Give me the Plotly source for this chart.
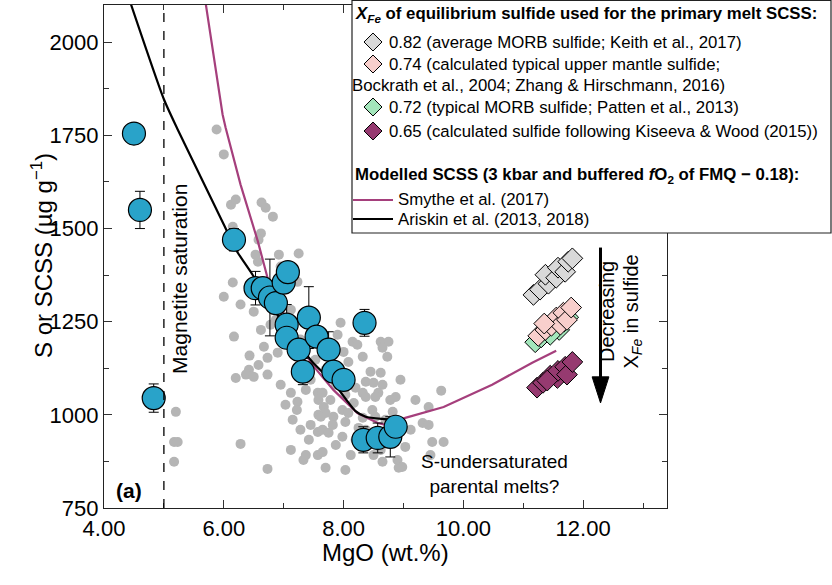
import plotly.graph_objects as go

# ---------------- data ----------------
gray_mgo = [5.88, 6.00, 6.12, 6.20, 6.63, 6.70, 6.82, 6.15, 6.62, 6.58,
            6.53, 6.92, 7.25, 6.57, 6.95, 6.15, 6.00, 7.23, 6.50, 6.17,
            6.67, 6.43, 6.73, 6.58, 6.90, 6.42, 6.37, 6.20, 6.50, 6.73,
            7.12, 7.23, 7.22, 7.37, 7.57, 5.20, 5.17, 5.23, 5.17, 6.28,
            6.73, 7.33, 7.57, 7.57, 7.58, 6.78, 7.95, 7.90, 8.15, 8.23,
            8.62, 8.75, 8.65, 8.73, 8.32, 8.00, 8.08, 8.45, 8.62, 8.37,
            8.50, 8.65, 8.87, 8.58, 8.53, 8.32, 8.37, 8.20, 7.65, 7.58,
            7.67, 7.70, 7.83, 7.62, 7.98, 8.08, 8.17, 8.48, 8.53, 8.32,
            7.82, 8.03, 7.65, 7.75, 8.25, 7.98, 7.65, 7.70, 8.90, 8.92,
            9.32, 9.42, 9.48, 9.67, 9.63, 9.42, 9.03, 8.50, 8.65, 8.98,
            7.15, 7.28, 7.42, 7.45, 7.03, 6.95, 7.37, 7.12, 7.87, 8.12,
            8.03, 8.20, 8.37, 8.70, 8.82, 7.28, 7.53, 7.70, 7.87, 8.03,
            7.78, 7.45, 7.28, 7.12, 6.87, 6.62, 6.95, 6.45, 6.28, 6.78,
            9.12, 9.20, 8.95, 8.78, 8.87, 8.62, 9.45]
gray_s = [1766, 1699, 1564, 1578, 1570, 1556, 1532, 1505, 1487, 1470,
          1430, 1430, 1433, 1411, 1398, 1355, 1317, 1357, 1277, 1210,
          1183, 1159, 1153, 1134, 1167, 1121, 1108, 1099, 1102, 1108,
          1059, 1035, 1013, 1067, 1059, 1008, 927, 927, 874, 922,
          855, 879, 892, 954, 1000, 1242, 1247, 1215, 1196, 1188,
          1196, 1196, 1180, 1156, 1156, 1169, 1142, 1116, 1113, 1089,
          1086, 1081, 1048, 1059, 1048, 1059, 1048, 1073, 1059, 1040,
          1021, 1005, 995, 995, 1013, 1005, 1032, 1013, 995, 992,
          973, 981, 960, 952, 965, 941, 900, 858, 879, 858,
          978, 973, 927, 927, 1065, 1021, 914, 892, 874, 860,
          987, 960, 933, 973, 1027, 1081, 892, 906, 919, 892,
          852, 933, 960, 987, 1008, 1116, 1148, 1121, 1081, 1054,
          1040, 1094, 1202, 1282, 1255, 1228, 1363, 1336, 1296, 1336,
          960, 1040, 1094, 1040, 933, 906, 892]

blue_mgo = [4.50, 4.60, 4.83, 6.17, 6.53, 6.65, 6.77, 6.87, 7.00, 7.07, 7.05, 7.05,
            7.25, 7.32, 7.42, 7.55, 7.75, 7.83, 8.00, 8.35, 8.33, 8.57, 8.78, 8.87]
blue_s = [1755, 1550, 1045, 1470, 1340, 1340, 1315, 1300, 1355, 1383, 1242, 1207,
          1175, 1116, 1261, 1210, 1175, 1116, 1094, 1247, 933, 938, 941, 968]
blue_err = [0, 50, 38, 30, 45, 0, 103, 0, 0, 0, 54, 0,
            0, 35, 83, 0, 48, 0, 0, 36, 35, 40, 54, 0]

ariskin_mgo = [4.45, 5.00, 5.23, 6.00, 6.20, 6.48, 6.95, 7.48, 7.83, 8.20, 8.37, 8.65, 8.83]
ariskin_s = [2102, 1847, 1766, 1511, 1444, 1376, 1255, 1142, 1086, 1010, 995, 989, 987]

smythe_mgo = [5.70, 5.98, 6.03, 6.28, 6.57, 6.73, 7.12, 7.48, 7.83, 8.23, 8.57, 8.70,
              9.03, 9.67, 10.48, 11.15, 11.55]
smythe_s = [2102, 1806, 1771, 1618, 1465, 1368, 1228, 1134, 1067, 1005, 978, 973,
            992, 1021, 1081, 1140, 1172]

xfe082_mgo = [11.17, 11.28, 11.42, 11.37, 11.55, 11.58, 11.70, 11.75, 11.82]
xfe082_s = [1322, 1336, 1352, 1376, 1368, 1395, 1384, 1411, 1420]
xfe072_mgo = [11.20, 11.30, 11.42, 11.52, 11.60, 11.68, 11.75, 11.45]
xfe072_s = [1195, 1208, 1222, 1238, 1228, 1250, 1262, 1215]
xfe074_mgo = [11.25, 11.37, 11.47, 11.55, 11.62, 11.67, 11.73, 11.80, 11.35]
xfe074_s = [1212, 1228, 1239, 1261, 1242, 1274, 1255, 1288, 1245]
xfe065_mgo = [11.23, 11.33, 11.45, 11.57, 11.58, 11.70, 11.73, 11.82, 11.40]
xfe065_s = [1073, 1086, 1105, 1099, 1118, 1129, 1108, 1142, 1092]

x_ticks = [4, 6, 8, 10, 12]
x_ticklabels = ["4.00", "6.00", "8.00", "10.00", "12.00"]
y_ticks = [750, 1000, 1250, 1500, 1750, 2000]

# ---------------- styles ----------------
FONT = "Liberation Sans, Arial, sans-serif"
C_GRAY = "#b5b5b5"
C_BLUE = "#29a3c9"
C_MAG = "#a53f7c"
C_D082 = "#d9d9d9"
C_D074 = "#f8cfcc"
C_D072 = "#a3e6bb"
C_D065 = "#963a70"

fig = go.Figure()

fig.add_trace(go.Scatter(x=gray_mgo, y=gray_s, mode="markers",
                         marker=dict(size=10, color=C_GRAY, line=dict(width=0)),
                         showlegend=False))
fig.add_trace(go.Scatter(x=smythe_mgo, y=smythe_s, mode="lines",
                         line=dict(color=C_MAG, width=2.2), showlegend=False))
fig.add_trace(go.Scatter(x=ariskin_mgo, y=ariskin_s, mode="lines",
                         line=dict(color="black", width=2.2, shape="spline", smoothing=0.6),
                         showlegend=False))
fig.add_trace(go.Scatter(x=blue_mgo, y=blue_s, mode="markers",
                         error_y=dict(type="data", array=blue_err, visible=True,
                                      color="black", thickness=1, width=5),
                         marker=dict(size=23, color=C_BLUE, line=dict(width=1.2, color="black")),
                         showlegend=False))
for xs, ys, col in [(xfe082_mgo, xfe082_s, C_D082), (xfe072_mgo, xfe072_s, C_D072),
                    (xfe074_mgo, xfe074_s, C_D074), (xfe065_mgo, xfe065_s, C_D065)]:
    fig.add_trace(go.Scatter(x=xs, y=ys, mode="markers",
                             marker=dict(symbol="diamond", size=16, color=col,
                                         line=dict(width=1, color="black")),
                             showlegend=False))

# arrow head
fig.add_trace(go.Scatter(x=[12.15, 12.43, 12.29, 12.15], y=[1102, 1102, 1032, 1102],
                         mode="lines", fill="toself", fillcolor="black",
                         line=dict(color="black", width=1), showlegend=False,
                         hoverinfo="skip"))

# ---------------- legend box (paper units) ----------------
def px_x(px):
    return (px - 104) / 563.0


def px_y(py):
    return (508 - py) / 503.0


shapes = [
    dict(type="line", xref="x", yref="y", x0=5.0, x1=5.0, y0=750, y1=2100,
         line=dict(color="black", width=1.3, dash="dash")),
    dict(type="line", xref="x", yref="y", x0=12.29, x1=12.29, y0=1449, y1=1100,
         line=dict(color="black", width=3)),
    dict(type="rect", xref="paper", yref="paper", x0=px_x(352), x1=px_x(831),
         y0=px_y(233), y1=px_y(0.5), line=dict(color="#222", width=1.2),
         fillcolor="white", layer="above"),
]

leg_diamonds = [(42, C_D082), (64, C_D074), (107, C_D072), (131, C_D065)]
h = 9.0
for py, col in leg_diamonds:
    cx, cy = 373, py
    path = "M {} {} L {} {} L {} {} L {} {} Z".format(
        px_x(cx - h), px_y(cy), px_x(cx), px_y(cy - h),
        px_x(cx + h), px_y(cy), px_x(cx), px_y(cy + h))
    shapes.append(dict(type="path", xref="paper", yref="paper", path=path,
                       fillcolor=col, line=dict(color="black", width=1), layer="above"))
for py, col in [(200, C_MAG), (219, "black")]:
    shapes.append(dict(type="line", xref="paper", yref="paper",
                       x0=px_x(353), x1=px_x(393), y0=px_y(py), y1=px_y(py),
                       line=dict(color=col, width=2.2), layer="above"))

legend_texts = [
    (353, 14, "<b><i>X</i><sub><i>Fe</i></sub> of equilibrium sulfide used for the primary melt SCSS:</b>"),
    (387, 42, "0.82 (average MORB sulfide; Keith et al., 2017)"),
    (387, 64, "0.74 (calculated typical upper mantle sulfide;"),
    (350, 86, "Bockrath et al., 2004; Zhang &amp; Hirschmann, 2016)"),
    (387, 107, "0.72 (typical MORB sulfide; Patten et al., 2013)"),
    (387, 131, "0.65 (calculated sulfide following Kiseeva &amp; Wood (2015))"),
    (353, 175, "<b>Modelled SCSS (3 kbar and buffered <i>f</i>O<sub>2</sub> of FMQ − 0.18):</b>"),
    (396, 200, "Smythe et al. (2017)"),
    (396, 219, "Ariskin et al. (2013, 2018)"),
]
annotations = []
for px, py, t in legend_texts:
    annotations.append(dict(xref="paper", yref="paper", x=px_x(px), y=px_y(py),
                            xanchor="left", yanchor="middle", text=t, showarrow=False,
                            font=dict(family=FONT, size=16.8, color="black")))

annotations += [
    dict(xref="x", yref="y", x=5.27, y=1365, text="Magnetite saturation", textangle=-90,
         showarrow=False, font=dict(family=FONT, size=21, color="black")),
    dict(xref="x", yref="y", x=4.42, y=798, text="<b>(a)</b>", showarrow=False,
         font=dict(family=FONT, size=21, color="black")),
    dict(xref="x", yref="y", x=10.52, y=841, text="S-undersaturated<br>parental melts?",
         showarrow=False, font=dict(family=FONT, size=19, color="black")),
    dict(xref="paper", yref="paper", x=px_x(620), y=px_y(312), text="Decreasing",
         textangle=-90, showarrow=False, font=dict(family=FONT, size=20, color="black")),
    dict(xref="paper", yref="paper", x=px_x(646), y=px_y(312),
         text="X<sub><i>Fe</i></sub> in sulfide",
         textangle=-90, showarrow=False, font=dict(family=FONT, size=20, color="black")),
    dict(xref="paper", yref="paper", x=px_x(25), y=px_y(256),
         text="S or SCSS (µg g<sup>−1</sup>)", textangle=-90, showarrow=False,
         font=dict(family=FONT, size=24, color="black")),
    dict(xref="paper", yref="paper", x=0.5, y=px_y(568), text="MgO (wt.%)",
         showarrow=False, font=dict(family=FONT, size=24, color="black")),
]

axis_common = dict(showline=True, linecolor="#222", linewidth=1.3, mirror="ticks",
                   ticks="inside", ticklen=8, tickwidth=1.2, tickcolor="#333",
                   showgrid=False, zeroline=False,
                   tickfont=dict(family=FONT, size=22, color="black"))

fig.update_layout(
    width=832, height=585,
    margin=dict(l=104, r=165, t=5, b=77),
    plot_bgcolor="white", paper_bgcolor="white",
    xaxis=dict(range=[4, 13.4], tickvals=x_ticks, ticktext=x_ticklabels,
               minor=dict(dtick=1, tick0=0, ticks="inside", ticklen=5, tickcolor="#333"),
               **axis_common),
    yaxis=dict(range=[750, 2100], tickvals=y_ticks,
               minor=dict(dtick=125, tick0=750, ticks="inside", ticklen=5, tickcolor="#333"),
               **axis_common),
    shapes=shapes,
    annotations=annotations,
    showlegend=False,
)

fig.write_html("out.html")
